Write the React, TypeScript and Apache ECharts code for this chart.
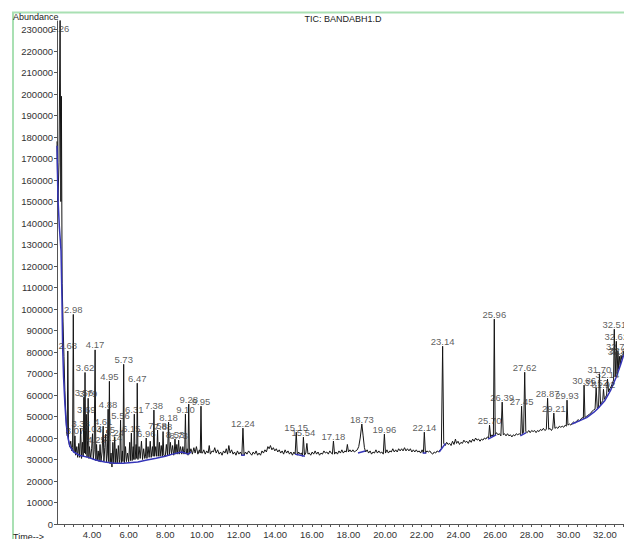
import React, { useEffect, useRef } from "react";
import * as echarts from "echarts";

const chartTitle = "TIC: BANDABH1.D";
const yAxisName = "Abundance";
const xAxisName = "Time-->";

const yTickValues = [0, 10000, 20000, 30000, 40000, 50000, 60000, 70000, 80000, 90000, 100000, 110000, 120000, 130000, 140000, 150000, 160000, 170000, 180000, 190000, 200000, 210000, 220000, 230000];
const xLabelValues = [4, 6, 8, 10, 12, 14, 16, 18, 20, 22, 24, 26, 28, 30, 32];
const xTickValues = [2.5, 3, 3.5, 4, 4.5, 5, 5.5, 6, 6.5, 7, 7.5, 8, 8.5, 9, 9.5, 10, 10.5, 11, 11.5, 12, 12.5, 13, 13.5, 14, 14.5, 15, 15.5, 16, 16.5, 17, 17.5, 18, 18.5, 19, 19.5, 20, 20.5, 21, 21.5, 22, 22.5, 23, 23.5, 24, 24.5, 25, 25.5, 26, 26.5, 27, 27.5, 28, 28.5, 29, 29.5, 30, 30.5, 31, 31.5, 32, 32.5, 33];

// labelled peaks: retention time (min) and abundance at apex
const peakTimes = [2.26, 2.68, 2.98, 3.07, 3.38, 3.56, 3.62, 3.69, 3.79, 4.03, 4.17, 4.25, 4.61, 4.75, 4.88, 4.95, 5.14, 5.24, 5.56, 5.73, 6.15, 6.31, 6.47, 6.96, 7.38, 7.58, 7.88, 8.18, 8.53, 8.73, 9.10, 9.28, 9.95, 12.24, 15.15, 15.54, 17.18, 18.73, 19.96, 22.14, 23.14, 25.70, 25.96, 26.39, 27.45, 27.62, 28.87, 29.21, 29.93, 30.86, 31.52, 31.70, 31.92, 32.14, 32.51, 32.62, 32.71, 32.80, 32.88];
const peakHeights = [238000, 80500, 97500, 41000, 44500, 59000, 70500, 51000, 58500, 42000, 81000, 37000, 45500, 41800, 53400, 66400, 38000, 40400, 48300, 74300, 42300, 51100, 65500, 40000, 53000, 43700, 43000, 47400, 39500, 39000, 51100, 55800, 54800, 44600, 42700, 40400, 38600, 46500, 41800, 42700, 82700, 46000, 95300, 56700, 54800, 70600, 58500, 51600, 57600, 64600, 63500, 69700, 62700, 67400, 90600, 85000, 80400, 78000, 78500];

// the rest of the TIC trace between labelled apexes: [time, abundance]
const backgroundTrace: [number, number][] = [
  [2.09, 178000], [2.14, 150000], [2.20, 168000], [2.30, 150000], [2.33, 199000], [2.37, 112000], [2.42, 94000], [2.47, 78000], [2.52, 62000], [2.57, 51000], [2.62, 44000], [2.65, 41000], [2.72, 39000], [2.78, 36000], [2.84, 38500], [2.90, 34000], [2.94, 35500], [3.02, 33500], [3.11, 32000], [3.17, 36000], [3.22, 31000], [3.28, 37500], [3.33, 31000], [3.43, 30500], [3.48, 38000], [3.52, 31500], [3.59, 33000], [3.65, 32500], [3.73, 31000], [3.76, 39000], [3.83, 30500], [3.86, 36000], [3.93, 30500], [3.98, 35000],
  [4.07, 30000], [4.12, 34500], [4.21, 29500], [4.29, 29500], [4.34, 34000], [4.39, 29000], [4.44, 37000], [4.49, 28800], [4.55, 33500], [4.65, 29000], [4.70, 35500], [4.79, 28500], [4.84, 33000], [4.91, 29000], [4.99, 28000], [5.04, 33000], [5.09, 26500], [5.19, 28000], [5.29, 28500], [5.33, 35000], [5.38, 28000], [5.44, 36500], [5.49, 28500], [5.52, 30000], [5.60, 28500], [5.66, 34000], [5.69, 29000], [5.77, 28500], [5.83, 36000], [5.88, 29000], [5.94, 33000],
  [6.00, 29000], [6.06, 38000], [6.10, 29500], [6.19, 29500], [6.25, 36000], [6.28, 30000], [6.35, 30000], [6.41, 37000], [6.44, 30500], [6.51, 30000], [6.57, 36000], [6.63, 30500], [6.70, 38500], [6.76, 30000], [6.82, 35000], [6.88, 30500], [6.92, 31500], [7.00, 30500], [7.06, 36000], [7.12, 31000], [7.18, 38500], [7.23, 31000], [7.30, 36000], [7.34, 31500], [7.42, 31500], [7.48, 36000], [7.53, 31500], [7.62, 31500], [7.68, 38000], [7.72, 31500], [7.78, 36500], [7.84, 31500], [7.92, 32000],
  [8.00, 31500], [8.06, 37000], [8.12, 32000], [8.22, 32000], [8.28, 38000], [8.34, 32500], [8.40, 36500], [8.46, 32000], [8.49, 33000], [8.58, 32500], [8.63, 37000], [8.68, 32500], [8.77, 32500], [8.83, 36000], [8.90, 32500], [8.96, 36000], [9.02, 32500], [9.06, 34000], [9.14, 32500], [9.20, 35000], [9.24, 32000], [9.32, 32500], [9.40, 35000], [9.48, 32500], [9.56, 35500], [9.63, 33000], [9.70, 36000], [9.78, 32500], [9.86, 34500], [9.91, 33000], [9.99, 33000],
  [10.03, 33000], [10.10, 34500], [10.18, 32500], [10.26, 34000], [10.34, 33000], [10.40, 36500], [10.46, 32500], [10.55, 34000], [10.63, 33500], [10.70, 35500], [10.78, 33000], [10.86, 34500], [10.94, 32500], [11.02, 33500], [11.10, 32000], [11.18, 34000], [11.26, 33000], [11.33, 35000], [11.40, 32500], [11.47, 36500], [11.54, 33000], [11.62, 34500], [11.70, 32500], [11.78, 33500], [11.86, 32000], [11.94, 34000], [12.02, 32500], [12.10, 33500], [12.18, 32000],
  [12.30, 32000], [12.38, 33500], [12.46, 32500], [12.55, 34000], [12.63, 33000], [12.72, 32000], [12.80, 33500], [12.88, 32500], [12.96, 34000], [13.04, 32000], [13.12, 33000], [13.20, 32000], [13.28, 34000], [13.36, 33000], [13.44, 34500], [13.52, 33500], [13.60, 36000], [13.67, 35000], [13.74, 36500], [13.82, 34500], [13.90, 35500], [13.98, 34000], [14.06, 35000], [14.14, 33500], [14.22, 34500], [14.30, 33000], [14.38, 34000], [14.46, 32500], [14.54, 34500], [14.62, 33000], [14.70, 34000], [14.78, 32500], [14.86, 33500], [14.94, 32000], [15.02, 33500], [15.09, 32500],
  [15.21, 32000], [15.28, 33500], [15.36, 32500], [15.43, 33000], [15.49, 31500], [15.60, 32000], [15.67, 33000], [15.73, 37500], [15.79, 32500], [15.86, 33000], [15.94, 32000], [16.02, 33500], [16.10, 32500], [16.18, 34000], [16.26, 32500], [16.34, 33500], [16.42, 32000], [16.50, 33000], [16.58, 32500], [16.66, 34000], [16.74, 33000], [16.82, 33500], [16.90, 32500], [16.98, 34000], [17.06, 33000], [17.12, 32500],
  [17.24, 32500], [17.32, 33500], [17.40, 32500], [17.48, 34000], [17.56, 33000], [17.64, 34500], [17.72, 33000], [17.80, 34000], [17.88, 33500], [17.94, 37000], [18.00, 33500], [18.08, 34500], [18.16, 33500], [18.24, 34500], [18.32, 33500], [18.40, 34000], [18.48, 34500], [18.56, 36000], [18.64, 40000], [18.80, 41000], [18.87, 35500], [18.94, 33500], [19.02, 34500], [19.10, 33000], [19.18, 34000], [19.26, 32500], [19.34, 33500], [19.42, 33000], [19.50, 34500], [19.58, 33000], [19.66, 34000], [19.74, 33000], [19.82, 33500], [19.90, 32500],
  [20.02, 33000], [20.10, 34500], [20.18, 33000], [20.26, 34000], [20.34, 33500], [20.42, 35000], [20.50, 33500], [20.58, 34500], [20.66, 33500], [20.74, 35000], [20.82, 34000], [20.90, 35000], [20.98, 34000], [21.06, 35500], [21.14, 34000], [21.22, 35000], [21.30, 34000], [21.38, 35000], [21.46, 33500], [21.54, 34500], [21.62, 33500], [21.70, 34500], [21.78, 33500], [21.86, 34000], [21.94, 33000], [22.02, 34500], [22.09, 33000],
  [22.20, 33000], [22.28, 34000], [22.36, 33500], [22.44, 34000], [22.52, 33000], [22.60, 32500], [22.68, 33500], [22.76, 33000], [22.84, 34000], [22.92, 33500], [23.00, 34500], [23.07, 35000],
  [23.20, 37500], [23.28, 36500], [23.36, 38000], [23.44, 37000], [23.52, 37500], [23.60, 36500], [23.68, 38500], [23.76, 37000], [23.84, 39500], [23.90, 37500], [23.98, 38500], [24.06, 37000], [24.14, 38000], [24.22, 37500], [24.30, 39000], [24.38, 38000], [24.46, 38500], [24.54, 37500], [24.62, 39000], [24.70, 38000], [24.78, 39500], [24.86, 38500], [24.94, 40000], [25.02, 39000], [25.10, 39500], [25.18, 38500], [25.26, 39500], [25.34, 39000], [25.42, 40000], [25.50, 39500], [25.58, 40500], [25.65, 40000],
  [25.76, 40500], [25.84, 41500], [25.91, 40500], [26.01, 41500], [26.08, 42500], [26.16, 41500], [26.24, 42000], [26.32, 41000], [26.45, 41500], [26.52, 42000], [26.60, 41000], [26.68, 42000], [26.76, 41000], [26.84, 41500], [26.92, 40500], [27.00, 41500], [27.08, 41000], [27.16, 42000], [27.24, 41500], [27.32, 42000], [27.40, 41500], [27.50, 42000], [27.56, 42500],
  [27.68, 43000], [27.76, 42500], [27.84, 43500], [27.92, 42500], [28.00, 43500], [28.08, 43000], [28.16, 43500], [28.24, 42500], [28.32, 43500], [28.40, 43000], [28.48, 44000], [28.56, 43500], [28.64, 44500], [28.72, 43500], [28.80, 44000], [28.93, 44000], [29.00, 44500], [29.08, 43500], [29.15, 44500],
  [29.27, 44500], [29.35, 45000], [29.43, 44500], [29.51, 45500], [29.59, 45000], [29.67, 45500], [29.75, 45000], [29.83, 46000], [29.89, 45500], [29.98, 46000], [30.06, 46500], [30.14, 46000], [30.22, 47000], [30.30, 47500], [30.38, 47000], [30.46, 48000], [30.54, 48500], [30.62, 48000], [30.70, 49000], [30.78, 49500], [30.82, 49000],
  [30.91, 49500], [30.98, 50000], [31.06, 50500], [31.14, 51000], [31.22, 51500], [31.30, 52500], [31.38, 53000], [31.46, 53500], [31.58, 54000], [31.65, 54500], [31.76, 55500], [31.82, 56500], [31.88, 57500], [31.97, 58000], [32.03, 59000], [32.09, 60000], [32.20, 61500], [32.27, 63000], [32.34, 64000], [32.41, 65500], [32.47, 67000], [32.56, 68500], [32.66, 70000], [32.75, 72000], [32.84, 74000], [32.92, 76500], [32.98, 78500], [33.04, 80500],
];

// integration baselines (blue), drawn as separate segments
const baselineSegments: [number, number][][] = [
  [[2.09, 176000], [2.14, 152000], [2.22, 138000], [2.31, 127000], [2.36, 105000], [2.40, 82000], [2.45, 68000], [2.52, 56000], [2.60, 46000], [2.69, 40000], [2.80, 36000], [3.00, 33500], [3.30, 32000], [3.80, 31000], [4.20, 29800], [4.70, 28800], [5.20, 28300], [5.70, 28300], [6.50, 28800], [7.00, 29800], [7.50, 30600], [8.00, 31500], [8.40, 32500], [8.90, 33500], [9.25, 32500], [9.40, 33500]],
  [[12.14, 32000], [12.34, 32000]],
  [[15.08, 32500], [15.62, 31500]],
  [[18.52, 33000], [18.92, 34000]],
  [[22.05, 33000], [22.25, 33000]],
  [[22.95, 33500], [23.30, 37500]],
  [[25.62, 39500], [26.06, 41500]],
  [[27.38, 41000], [27.70, 42500]],
  [[30.20, 46500], [30.60, 48000], [31.00, 49500], [31.40, 52000], [31.70, 54500], [32.00, 57500], [32.30, 62000], [32.60, 68000], [32.85, 74000], [33.04, 79000]],
];

const FONT = "'Liberation Sans', Arial, sans-serif";

export default function App() {
  const ref = useRef<HTMLDivElement>(null);
  useEffect(() => {
    if (!ref.current) return;
    const chart = echarts.init(ref.current, undefined, { renderer: "svg" });
    const traceData = [
      ...backgroundTrace,
      ...peakTimes.map((t, i) => [t, peakHeights[i]] as [number, number]),
    ].sort((a, b) => a[0] - b[0]);
    const labelData = peakTimes.map((t, i) => ({
      name: t.toFixed(2),
      value: [t, Math.min(peakHeights[i], 228000)],
    }));
    const series: any[] = [
      {
        type: "line",
        data: traceData,
        symbol: "none",
        showSymbol: false,
        lineStyle: { color: "#151515", width: 1 },
        z: 2,
        silent: true,
      },
      ...baselineSegments.map((seg) => ({
        type: "line",
        data: seg,
        symbol: "none",
        showSymbol: false,
        lineStyle: { color: "#3535b8", width: 1.5 },
        z: 3,
        silent: true,
      })),
      {
        type: "scatter",
        data: labelData,
        symbolSize: 0,
        silent: true,
        z: 4,
        label: {
          show: true,
          position: "top",
          distance: 0,
          formatter: "{b}",
          fontSize: 9.5,
          fontFamily: FONT,
          color: "#333",
        },
      },
    ];
    chart.setOption({
      animation: false,
      backgroundColor: "#ffffff",
      grid: { left: 57, right: 0, top: 21, bottom: 14, containLabel: false },
      xAxis: {
        type: "value",
        min: 2.09,
        max: 33.04,
        axisLine: { show: true, onZero: false, lineStyle: { color: "#555", width: 1 } },
        axisTick: { show: true, length: 3, customValues: xTickValues, lineStyle: { color: "#555" } },
        axisLabel: {
          customValues: xLabelValues,
          formatter: (v: number) => v.toFixed(2),
          fontSize: 9.5,
          fontFamily: FONT,
          color: "#333",
          margin: 5,
        },
        splitLine: { show: false },
      },
      yAxis: {
        type: "value",
        min: 0,
        max: 234000,
        axisLine: { show: true, lineStyle: { color: "#555", width: 1 } },
        axisTick: { show: true, length: 3, customValues: yTickValues, lineStyle: { color: "#555" } },
        axisLabel: {
          customValues: yTickValues,
          formatter: (v: number) => String(v),
          fontSize: 9.5,
          fontFamily: FONT,
          color: "#333",
          margin: 4,
        },
        splitLine: { show: false },
      },
      graphic: [
        {
          type: "polyline",
          shape: { points: [[13, 539], [13, 12.5], [624, 12.5]] },
          style: { stroke: "#a9e0b3", lineWidth: 2, fill: "none" },
          silent: true,
        },
        {
          type: "text",
          left: 13,
          top: 12,
          style: { text: yAxisName, fontSize: 9, fontFamily: FONT, fill: "#222" },
          silent: true,
        },
        {
          type: "text",
          x: 343,
          y: 14,
          style: { text: chartTitle, fontSize: 9, fontFamily: FONT, fill: "#222", align: "center" },
          silent: true,
        },
        {
          type: "text",
          left: 13,
          top: 532,
          style: { text: xAxisName, fontSize: 9, fontFamily: FONT, fill: "#222" },
          silent: true,
        },
      ],
      series,
    });
    return () => chart.dispose();
  }, []);
  return (
    <div
      ref={ref}
      style={{ position: "fixed", left: 0, top: 0, width: 624, height: 539, background: "#fff" }}
    />
  );
}
